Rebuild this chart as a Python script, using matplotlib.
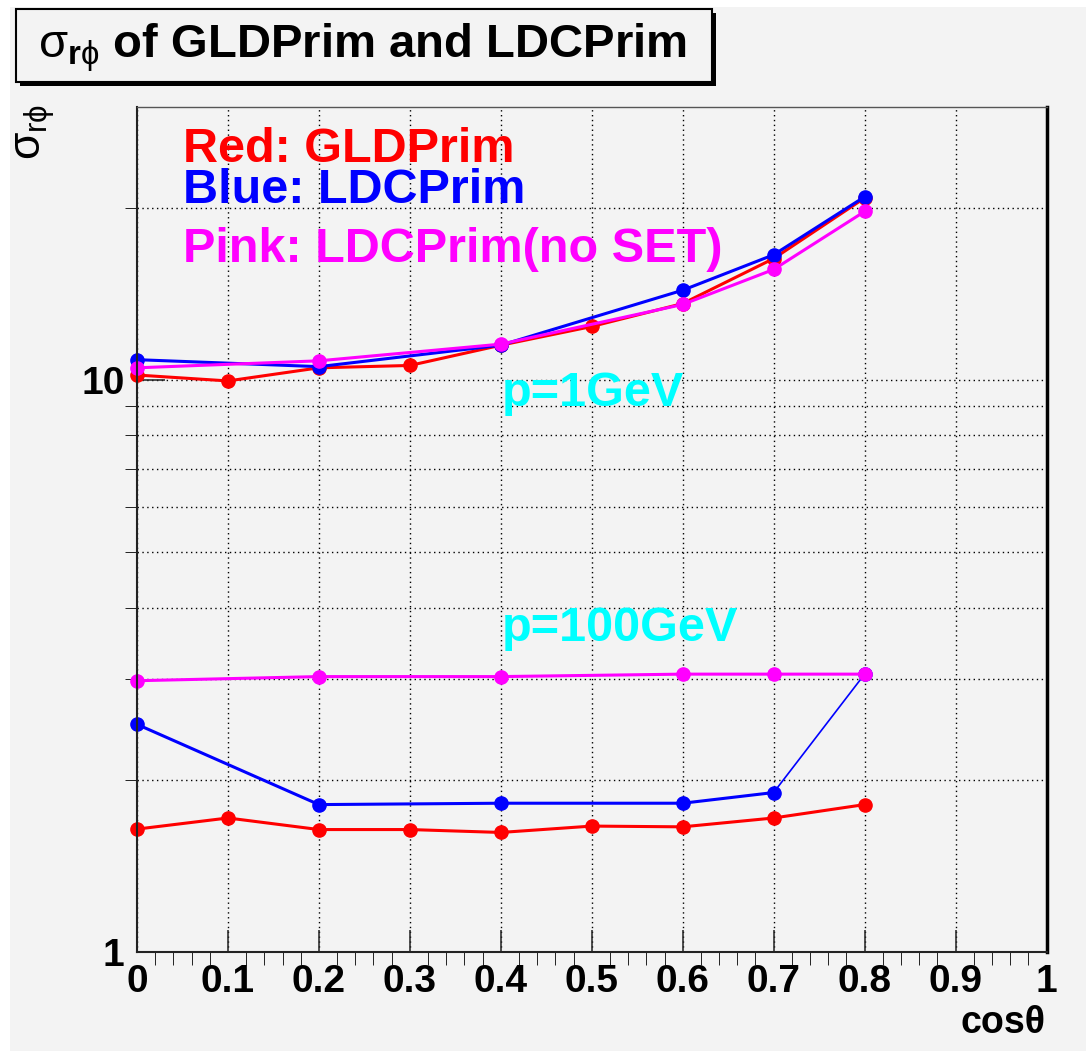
import matplotlib
matplotlib.use("Agg")
from matplotlib import pyplot as plt
from matplotlib.ticker import FixedLocator, MultipleLocator, NullFormatter, FixedFormatter
from matplotlib.patches import Rectangle

# cos(theta) points
cos_all = [0.0, 0.1, 0.2, 0.3, 0.4, 0.5, 0.6, 0.7, 0.8]
cos_sub = [0.0, 0.2, 0.4, 0.6, 0.7, 0.8]

# sigma_rphi, p = 1 GeV
gld_1gev = [10.2, 9.96, 10.5, 10.6, 11.5, 12.4, 13.6, 16.3, 20.8]
ldc_1gev = [10.85, 10.55, 11.5, 14.35, 16.55, 20.9]
ldc_noset_1gev = [10.5, 10.8, 11.55, 13.55, 15.6, 19.7]

# sigma_rphi, p = 100 GeV
gld_100gev = [1.64, 1.715, 1.637, 1.637, 1.618, 1.66, 1.655, 1.715, 1.81]
ldc_100gev = [2.50, 1.81, 1.82, 1.82, 1.90, 3.06]
ldc_noset_100gev = [2.98, 3.03, 3.03, 3.06, 3.06, 3.06]

x_ticks = [0.0, 0.1, 0.2, 0.3, 0.4, 0.5, 0.6, 0.7, 0.8, 0.9, 1.0]
x_labels = ["0", "0.1", "0.2", "0.3", "0.4", "0.5", "0.6", "0.7", "0.8", "0.9", "1"]
y_ticks = [1, 10]
y_labels = ["1", "10"]
y_minor = [2, 3, 4, 5, 6, 7, 8, 9, 20]

legend_lines = ["Red: GLDPrim", "Blue: LDCPrim", "Pink: LDCPrim(no SET)"]
legend_colors = ["#ff0000", "#0000ff", "#ff00ff"]

plt.rcParams["font.family"] = ["Liberation Sans", "DejaVu Sans"]
plt.rcParams["mathtext.fontset"] = "custom"
plt.rcParams["mathtext.rm"] = "Liberation Sans"
plt.rcParams["mathtext.it"] = "Liberation Sans"
plt.rcParams["mathtext.bf"] = "Liberation Sans:bold"

W, H = 1086, 1051
bg = "#f3f3f3"
fig = plt.figure(figsize=(W / 100, H / 100), dpi=100, facecolor="white")

# ROOT canvas background
fig.patches.append(Rectangle((10 / W, 0), 1 - 10 / W, 1 - 7 / H, transform=fig.transFigure,
                             facecolor=bg, edgecolor="none", zorder=-10))

ax = fig.add_axes([137 / W, 1 - 952 / H, (1046.5 - 137) / W, (952 - 107) / H])
ax.set_facecolor(bg)
ax.set_yscale("log")
ax.set_xlim(0, 1)
ax.set_ylim(1, 30)

ax.xaxis.set_major_locator(FixedLocator(x_ticks))
ax.xaxis.set_major_formatter(FixedFormatter(x_labels))
ax.xaxis.set_minor_locator(MultipleLocator(0.02))
ax.yaxis.set_major_locator(FixedLocator(y_ticks))
ax.yaxis.set_major_formatter(FixedFormatter(y_labels))
ax.yaxis.set_minor_locator(FixedLocator(y_minor))
ax.yaxis.set_minor_formatter(NullFormatter())

ax.tick_params(direction="in", top=False, right=False, labelsize=28, width=1.1, color="#222222")
ax.tick_params(axis="x", which="major", length=16, pad=9)
ax.tick_params(axis="x", which="minor", length=9)
ax.tick_params(axis="y", which="major", length=20, pad=9)
ax.tick_params(axis="y", which="minor", length=9)
for lab in ax.get_xticklabels() + ax.get_yticklabels():
    lab.set_fontweight("bold")

ax.grid(True, axis="x", which="major", color="black", linestyle=(0, (1, 2.5)), linewidth=1)
ax.grid(True, axis="y", which="both", color="black", linestyle=(0, (1, 2.5)), linewidth=1)

ax.spines["left"].set_linewidth(1.5)
ax.spines["bottom"].set_linewidth(1.5)
ax.spines["left"].set_color("#222222")
ax.spines["bottom"].set_color("#222222")
ax.spines["top"].set_linewidth(1)
ax.spines["top"].set_color("#555555")
ax.spines["right"].set_linewidth(2.5)
ax.spines["right"].set_color("black")

kw = dict(marker="o", markersize=9.5, linewidth=2.2, clip_on=False)
ax.plot(cos_all, gld_1gev, color="#ff0000", **kw)
ax.plot(cos_sub, ldc_1gev, color="#0000ff", **kw)
ax.plot(cos_sub, ldc_noset_1gev, color="#ff00ff", **kw)

ax.plot(cos_all, gld_100gev, color="#ff0000", **kw)
ax.plot(cos_sub[:-1], ldc_100gev[:-1], color="#0000ff", **kw)
ax.plot(cos_sub[-2:], ldc_100gev[-2:], color="#0000ff", linewidth=1.2, clip_on=False)
ax.plot(cos_sub[-1:], ldc_100gev[-1:], color="#0000ff", marker="o", markersize=9.5,
        linestyle="none", clip_on=False)
ax.plot(cos_sub, ldc_noset_100gev, color="#ff00ff", **kw)

# legend texts
for txt, c, ypos in zip(legend_lines, legend_colors, [0.935, 0.886, 0.817]):
    ax.text(0.0506, ypos, txt, transform=ax.transAxes, color=c, fontsize=35,
            fontweight="bold", va="baseline", ha="left")

ax.text(0.401, 9.01, "p=1GeV", color="#00ffff", fontsize=35, fontweight="bold", va="baseline")
ax.text(0.401, 3.50, "p=100GeV", color="#00ffff", fontsize=35, fontweight="bold", va="baseline")

# title box with shadow
fig.patches.append(Rectangle((20 / W, 1 - 86 / H), (712 - 16) / W, (82 - 9) / H,
                             transform=fig.transFigure, facecolor="black", edgecolor="none", zorder=5))
fig.patches.append(Rectangle((16 / W, 1 - 82 / H), (712 - 16) / W, (82 - 9) / H,
                             transform=fig.transFigure, facecolor=bg, edgecolor="black",
                             linewidth=1.5, zorder=6))
fig.text(38 / W, 1 - 57 / H, r"$\sigma_{\mathbf{r}\phi}$ of GLDPrim and LDCPrim", fontsize=34,
         fontweight="bold", va="baseline", ha="left", zorder=7)

# axis titles
fig.text(1045 / W, 1 - 1033 / H, "cosθ", fontsize=27, fontweight="bold", ha="right", va="baseline")
fig.text(36 / W, 1 - 104 / H, r"$\sigma_{r\phi}$", fontsize=32, rotation=90, ha="center", va="top")

fig.savefig("out.png", dpi=100, facecolor=fig.get_facecolor())
